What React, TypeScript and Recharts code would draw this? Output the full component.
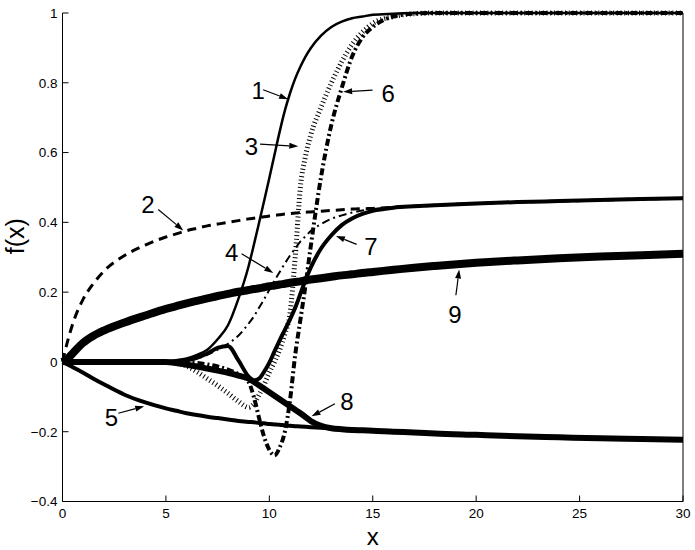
import { LineChart, Line, XAxis, YAxis, ReferenceLine, ReferenceDot } from 'recharts';

const FONT = '"Liberation Sans", Arial, Helvetica, sans-serif';

// sample positions along x
const xs = [0, 0.25, 0.5, 1, 1.5, 2, 3, 4, 5, 5.5, 6, 6.5, 7, 7.5, 8, 8.5, 9, 9.25, 9.5, 9.75, 10, 10.25, 10.5, 10.75, 11, 11.25, 11.5, 11.75, 12, 12.5, 13, 13.5, 14, 14.5, 15, 16, 17, 18, 20, 22, 24, 26, 28, 30];

const curve1 = [0, 0, 0, 0, 0, 0, 0, 0.001, 0.002, 0.005, 0.01, 0.02, 0.035, 0.065, 0.105, 0.18, 0.275, 0.335, 0.398, 0.462, 0.527, 0.594, 0.66, 0.72, 0.77, 0.812, 0.846, 0.875, 0.899, 0.935, 0.96, 0.975, 0.985, 0.99, 0.995, 0.998, 1, 1, 1, 1, 1, 1, 1, 1];
const curve2 = [0, 0.06, 0.11, 0.18, 0.225, 0.26, 0.305, 0.335, 0.358, 0.367, 0.376, 0.383, 0.39, 0.395, 0.4, 0.405, 0.41, 0.412, 0.414, 0.416, 0.418, 0.42, 0.422, 0.424, 0.425, 0.427, 0.428, 0.429, 0.43, 0.432, 0.434, 0.436, 0.438, 0.439, 0.44, 0.443, 0.446, 0.449, 0.454, 0.458, 0.461, 0.464, 0.467, 0.469];
const curve3 = [0, 0, 0, 0, 0, 0, 0, 0, -0.001, -0.004, -0.012, -0.028, -0.048, -0.068, -0.09, -0.113, -0.13, -0.12, -0.095, -0.065, -0.03, 0.0, 0.035, 0.08, 0.14, 0.3, 0.5, 0.59, 0.65, 0.73, 0.8, 0.86, 0.91, 0.945, 0.97, 0.99, 0.998, 1, 1, 1, 1, 1, 1, 1];
const curve4 = [0, 0, 0, 0, 0, 0, 0, 0, 0, 0.001, 0.004, 0.01, 0.02, 0.035, 0.052, 0.075, 0.11, 0.13, 0.155, 0.18, 0.207, 0.233, 0.258, 0.282, 0.305, 0.325, 0.345, 0.36, 0.375, 0.395, 0.41, 0.42, 0.428, 0.434, 0.438, 0.443, 0.446, 0.449, 0.454, 0.458, 0.461, 0.464, 0.467, 0.469];
const curve5 = [0, -0.007, -0.015, -0.031, -0.048, -0.064, -0.094, -0.116, -0.133, -0.14, -0.147, -0.152, -0.157, -0.161, -0.165, -0.169, -0.172, -0.173, -0.175, -0.176, -0.178, -0.179, -0.18, -0.182, -0.183, -0.184, -0.185, -0.186, -0.187, -0.189, -0.191, -0.193, -0.195, -0.196, -0.197, -0.2, -0.202, -0.205, -0.209, -0.213, -0.216, -0.219, -0.221, -0.223];
const curve6 = [0, 0, 0, 0, 0, 0, 0, 0, 0, 0, -0.001, -0.003, -0.007, -0.013, -0.022, -0.035, -0.058, -0.1, -0.16, -0.215, -0.252, -0.268, -0.245, -0.2, -0.11, 0.02, 0.12, 0.22, 0.33, 0.53, 0.68, 0.785, 0.875, 0.93, 0.96, 0.99, 0.998, 1, 1, 1, 1, 1, 1, 1];
const curve7 = [0, 0, 0, 0, 0, 0, 0, 0, 0, 0.002, 0.005, 0.012, 0.024, 0.04, 0.046, 0.005, -0.042, -0.053, -0.048, -0.028, -0.002, 0.03, 0.062, 0.092, 0.122, 0.155, 0.195, 0.235, 0.27, 0.325, 0.363, 0.392, 0.411, 0.424, 0.433, 0.442, 0.446, 0.449, 0.454, 0.458, 0.461, 0.464, 0.467, 0.469];
const curve8 = [0, 0, 0, 0, 0, 0, 0, 0, 0, -0.003, -0.008, -0.013, -0.019, -0.025, -0.031, -0.039, -0.048, -0.057, -0.067, -0.077, -0.087, -0.097, -0.107, -0.117, -0.127, -0.137, -0.147, -0.158, -0.169, -0.183, -0.19, -0.193, -0.195, -0.196, -0.197, -0.2, -0.202, -0.205, -0.209, -0.213, -0.216, -0.219, -0.221, -0.223];
const curve9 = [0, 0.01, 0.025, 0.055, 0.075, 0.09, 0.113, 0.133, 0.152, 0.16, 0.168, 0.175, 0.182, 0.189, 0.195, 0.201, 0.206, 0.209, 0.211, 0.214, 0.217, 0.219, 0.222, 0.224, 0.227, 0.229, 0.231, 0.234, 0.236, 0.24, 0.244, 0.248, 0.251, 0.255, 0.258, 0.264, 0.27, 0.275, 0.284, 0.291, 0.297, 0.302, 0.306, 0.31];

const xTicks = [0, 5, 10, 15, 20, 25, 30];
const yTicks = [-0.4, -0.2, 0, 0.2, 0.4, 0.6, 0.8, 1];

// curve number labels and the arrow pointing to each curve (data coordinates)
const labelText = ['1', '2', '3', '4', '5', '6', '7', '8', '9'];
const labelX = [9.46, 4.13, 9.14, 8.18, 2.36, 15.75, 14.91, 13.75, 18.97];
const labelY = [0.777, 0.452, 0.617, 0.313, -0.16, 0.77, 0.332, -0.112, 0.136];
const arrowFromX = [9.7, 4.63, 9.55, 8.66, 2.7, 14.99, 14.22, 13.17, 19.02];
const arrowFromY = [0.78, 0.437, 0.624, 0.31, -0.147, 0.779, 0.337, -0.12, 0.191];
const arrowToX = [10.91, 5.84, 11.4, 10.19, 3.95, 13.57, 13.22, 12.04, 19.18];
const arrowToY = [0.753, 0.377, 0.618, 0.255, -0.127, 0.774, 0.361, -0.156, 0.265];

const data = xs.map((x, i) => ({
  x,
  c1: curve1[i],
  c2: curve2[i],
  c3: curve3[i],
  c4: curve4[i],
  c5: curve5[i],
  c6: curve6[i],
  c7: curve7[i],
  c8: curve8[i],
  c9: curve9[i],
}));

const series = [
  { key: 'c9', width: 8, dash: undefined },
  { key: 'c5', width: 4, dash: undefined },
  { key: 'c8', width: 6, dash: undefined },
  { key: 'c2', width: 3, dash: '9 6' },
  { key: 'c4', width: 2, dash: '8 4 2 4' },
  { key: 'c7', width: 4, dash: undefined },
  { key: 'c3', width: 5, dash: '1 2.7' },
  { key: 'c6', width: 4, dash: '7 3 2 3' },
  { key: 'c1', width: 2.5, dash: undefined },
];

const fmtY = (v: number) => (v === 0 ? '0' : (v < 0 ? '\u2212' : '') + String(Math.abs(v)));

function Arrow(p: any) {
  const { x1, y1, x2, y2 } = p;
  const dx = x2 - x1;
  const dy = y2 - y1;
  const len = Math.hypot(dx, dy) || 1;
  const ux = dx / len;
  const uy = dy / len;
  const hl = 9;
  const hw = 3;
  const bx = x2 - ux * hl;
  const by = y2 - uy * hl;
  return (
    <g>
      <line x1={x1} y1={y1} x2={bx} y2={by} stroke="#000" strokeWidth={1.2} />
      <polygon points={`${x2},${y2} ${bx - uy * hw},${by + ux * hw} ${bx + uy * hw},${by - ux * hw}`} fill="#000" />
    </g>
  );
}

function YLabel(props: any) {
  const vb = props.viewBox || {};
  const cx = vb.x + 24;
  const cy = vb.y + vb.height / 2 - 21;
  return (
    <text x={cx} y={cy} transform={`rotate(-90, ${cx}, ${cy})`} textAnchor="middle" fontSize={25} fontFamily={FONT} fill="#000">
      f(x)
    </text>
  );
}

export default function App() {
  const tickStyle = { fontSize: 13.5, fontFamily: FONT, fill: '#000' };
  return (
    <div style={{ position: 'absolute', left: 0, top: 0, width: 695, height: 550, background: '#fff' }}>
      <LineChart width={695} height={550} data={data} margin={{ top: 13, right: 0, bottom: 0, left: 0 }}>
        <XAxis
          xAxisId="b"
          dataKey="x"
          type="number"
          domain={[0, 30]}
          ticks={xTicks}
          interval={0}
          height={48.5}
          tickSize={-6}
          tickMargin={13}
          tick={tickStyle}
          stroke="#000"
          label={{ value: 'x', position: 'insideBottom', offset: 5, fontSize: 24, fontFamily: FONT, fill: '#000' }}
        />
        <XAxis
          xAxisId="t"
          orientation="top"
          dataKey="x"
          type="number"
          domain={[0, 30]}
          ticks={xTicks}
          interval={0}
          height={0}
          tickSize={-6}
          tickFormatter={() => ''}
          stroke="#000"
        />
        <YAxis
          yAxisId="l"
          type="number"
          domain={[-0.4, 1]}
          ticks={yTicks}
          interval={0}
          width={62.5}
          tickSize={-6}
          tickMargin={11}
          tick={tickStyle}
          tickFormatter={fmtY}
          stroke="#000"
          label={{ value: 'f(x)', content: YLabel }}
        />
        <YAxis
          yAxisId="r"
          orientation="right"
          type="number"
          domain={[-0.4, 1]}
          ticks={yTicks}
          interval={0}
          width={12}
          tickSize={-6}
          tickFormatter={() => ''}
          stroke="#000"
        />
        {series.map((s) => (
          <Line
            key={s.key}
            xAxisId="b"
            yAxisId="l"
            type="monotone"
            dataKey={s.key}
            stroke="#000"
            strokeWidth={s.width}
            strokeDasharray={s.dash}
            dot={false}
            activeDot={false}
            isAnimationActive={false}
          />
        ))}
        {labelText.map((t, i) => (
          <ReferenceLine
            key={`arrow-${t}`}
            xAxisId="b"
            yAxisId="l"
            segment={[
              { x: arrowFromX[i], y: arrowFromY[i] },
              { x: arrowToX[i], y: arrowToY[i] },
            ]}
            shape={Arrow}
          />
        ))}
        {labelText.map((t, i) => (
          <ReferenceDot
            key={`label-${t}`}
            xAxisId="b"
            yAxisId="l"
            x={labelX[i]}
            y={labelY[i]}
            r={0}
            shape={(p: any) => (
              <text x={p.cx} y={p.cy} dy="0.36em" textAnchor="middle" fontSize={24} fontFamily={FONT} fill="#000">
                {t}
              </text>
            )}
          />
        ))}
      </LineChart>
    </div>
  );
}
